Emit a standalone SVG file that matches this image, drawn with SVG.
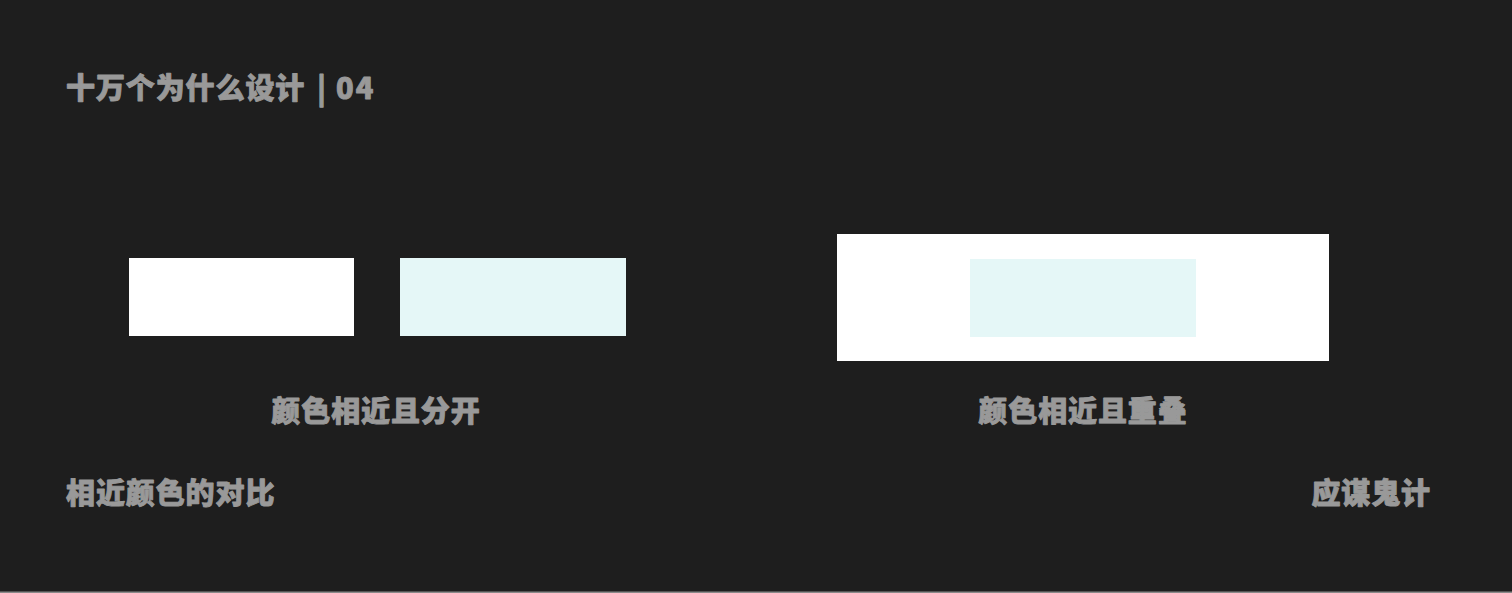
<svg xmlns="http://www.w3.org/2000/svg" width="1512" height="593" viewBox="0 0 1512 593">
<style>
.t{font-family:"Noto Sans CJK SC","Noto Sans",sans-serif;font-weight:900;font-size:29px;fill:#999999;stroke:#999999;stroke-width:0.9;stroke-linejoin:round;letter-spacing:0.9px}
</style>
<rect x="0" y="0" width="1512" height="593" fill="#1e1e1e"/>
<rect x="0" y="591.5" width="1512" height="1.5" fill="#8a8a8a"/>
<g id="title"><text class="t" x="66" y="99">十万个为什么设计<tspan x="317">|</tspan><tspan x="336" letter-spacing="2px">04</tspan></text></g>
<g id="white-a"><rect x="129" y="258" width="225" height="78" fill="#ffffff"/></g>
<g id="cyan-a"><rect x="400" y="258" width="226" height="78" fill="#e5f7f7"/></g>
<g id="label-a"><text class="t" x="376" y="422" text-anchor="middle">颜色相近且分开</text></g>
<g id="white-b"><rect x="837" y="234" width="492" height="127" fill="#ffffff"/></g>
<g id="cyan-b"><rect x="970" y="259" width="226" height="78" fill="#e5f7f7"/></g>
<g id="label-b"><text class="t" x="1083" y="422" text-anchor="middle">颜色相近且重叠</text></g>
<g id="footer-left"><text class="t" x="66" y="504">相近颜色的对比</text></g>
<g id="footer-right"><text class="t" x="1431" y="504" text-anchor="end">应谋鬼计</text></g>
<g id="connectors"></g>
</svg>
